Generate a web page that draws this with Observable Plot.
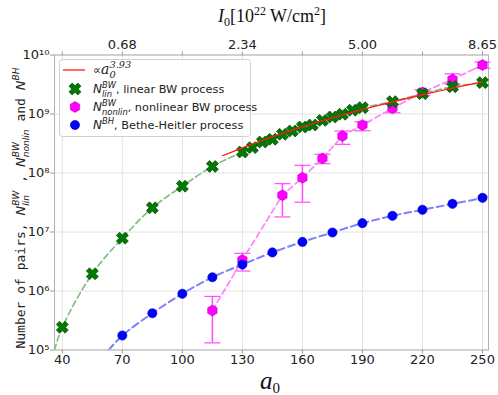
<!DOCTYPE html>
<html><head><meta charset="utf-8">
<script src="https://cdn.jsdelivr.net/npm/d3@7"></script>
<script src="https://cdn.jsdelivr.net/npm/@observablehq/plot@0.6"></script>
<style>body{margin:0;background:#fff;} svg{display:block;}</style>
</head><body>
<script>
// ---- tick data ----
const xTicks = [40, 70, 100, 130, 160, 190, 220, 250];
const topTickA0 = [70, 130, 190, 250];
const topTickLabels = ["0.68", "2.34", "5.00", "8.65"];
const yTicks = [1e5, 1e6, 1e7, 1e8, 1e9, 1e10];

// ---- linear BW (green X) ----
const linA0 = [40, 55, 70, 85, 100, 115, 130, 135, 140, 145, 150, 155, 160, 165, 170, 175, 180, 185, 190, 205, 220, 235, 250];
const linN = [2.43e5, 1.96e6, 7.85e6, 2.57e7, 5.97e7, 1.29e8, 2.27e8, 2.69e8, 3.35e8, 3.73e8, 4.53e8, 5.15e8, 6.02e8, 6.5e8, 7.8e8, 8.9e8, 9.9e8, 1.16e9, 1.28e9, 1.62e9, 2.21e9, 2.9e9, 3.4e9];
// dashed fit curve start (enters at bottom frame)
const linFitStartA0 = [36.1];
const linFitStartN = [1.0e5];

// ---- nonlinear BW (magenta hexagons, error bars) ----
const nonA0 = [115, 130, 150, 160, 170, 180, 190, 205, 220, 235, 250];
const nonN  = [4.67e5, 3.35e6, 4.2e7, 8.3e7, 1.77e8, 4.24e8, 6.5e8, 1.25e9, 2.33e9, 3.87e9, 6.77e9];
const nonLo = [1.32e5, 2.18e6, 1.8e7, 3.2e7, 1.44e8, 3.06e8, 5.2e8, 1.05e9, 2.06e9, 3.2e9, 5.96e9];
const nonHi = [8.1e5, 4.35e6, 6.6e7, 1.35e8, 2.08e8, 5.15e8, 7.4e8, 1.46e9, 2.57e9, 4.8e9, 7.6e9];

// ---- Bethe-Heitler (blue circles) ----
const bhA0 = [70, 85, 100, 115, 130, 145, 160, 175, 190, 205, 220, 235, 250];
const bhN = [1.76e5, 4.2e5, 8.97e5, 1.71e6, 2.81e6, 4.5e6, 6.8e6, 9.8e6, 1.41e7, 1.88e7, 2.38e7, 3.0e7, 3.8e7];
const bhFitStartA0 = [63.2], bhFitStartN = [1.0e5];
const bhFitEndA0 = [253], bhFitEndN = [4.15e7];

// ---- power-law fit (red) ----
const fitA0 = [120, 140, 160, 180, 200, 220, 250];
const fitN = [1.96e8, 3.58e8, 6.05e8, 9.63e8, 1.456e9, 2.12e9, 3.5e9];

// ---- build tables ----
const zip = (xs, ys) => xs.map((a0, i) => ({a0, n: ys[i]}));
const lin = zip(linA0, linN);
const linFit = zip(linFitStartA0, linFitStartN).concat(lin);
const non = nonA0.map((a0, i) => ({a0, n: nonN[i], lo: nonLo[i], hi: nonHi[i]}));
const bh = zip(bhA0, bhN);
const bhFit = zip(bhFitStartA0, bhFitStartN).concat(bh, zip(bhFitEndA0, bhFitEndN));
const fit = zip(fitA0, fitN);
const topLabel = new Map(topTickA0.map((a, i) => [a, topTickLabels[i]]));

// ---- custom symbols ----
const symX = {draw(ctx, size) {
  const r = Math.sqrt(size / Math.PI), w = r * 0.36, c = Math.SQRT1_2;
  const pts = [[w,w],[w,r],[-w,r],[-w,w],[-r,w],[-r,-w],[-w,-w],[-w,-r],[w,-r],[w,-w],[r,-w],[r,w]];
  pts.forEach(([x, y], i) => { const X = (x - y) * c, Y = (x + y) * c; i ? ctx.lineTo(X, Y) : ctx.moveTo(X, Y); });
  ctx.closePath();
}};
const symHex = {draw(ctx, size) {
  const r = Math.sqrt(size / Math.PI);
  for (let i = 0; i < 6; i++) { const a = Math.PI / 2 + i * Math.PI / 3; const x = r * Math.cos(a), y = r * Math.sin(a); i ? ctx.lineTo(x, y) : ctx.moveTo(x, y); }
  ctx.closePath();
}};
const symCap = {draw(ctx, size) { const r = Math.sqrt(size / Math.PI); ctx.moveTo(-r, 0); ctx.lineTo(r, 0); }};

const supDigits = "⁰¹²³⁴⁵⁶⁷⁸⁹";
const supStr = k => String(k).split("").map(c => supDigits[+c]).join("");

const GREEN = "#007a00", GREEN_EDGE = "#004000";
const MAG = "#ff00ff", MAG_EDGE = "#c000c0", MAG_BAR = "#ff4cff";
const BLUE = "#0000ff", BLUE_EDGE = "#0000b0";

const chart = Plot.plot({
  width: 498, height: 395,
  marginTop: 54.5, marginBottom: 45.5, marginLeft: 54, marginRight: 10,
  style: {fontFamily: "DejaVu Sans", fontSize: "13px", color: "#222", background: "white"},
  x: {domain: [36.1, 253]},
  y: {type: "log", domain: [1e5, 1e10]},
  marks: [
    Plot.gridX(xTicks, {stroke: "#e2e2e2", strokeOpacity: 1}),
    Plot.gridY(yTicks, {stroke: "#e2e2e2", strokeOpacity: 1}),
    Plot.axisX({ticks: xTicks, tickFormat: d => String(d), tickSize: 4, tickPadding: 1, stroke: "#999", fill: "#222", fontSize: 13, label: null}),
    Plot.axisX({anchor: "top", ticks: xTicks, tickFormat: d => topLabel.get(d) ?? "", tickSize: 4, tickPadding: 2, stroke: "#999", fill: "#222", fontSize: 13, label: null}),
    Plot.axisY({ticks: yTicks, tickFormat: d => "10" + supStr(Math.round(Math.log10(d))), tickSize: 4, tickPadding: 1, stroke: "#999", fill: "#222", fontSize: 13, label: null}),
    Plot.frame({stroke: "#b0b0b0"}),
    Plot.line(bhFit, {x: "a0", y: "n", stroke: "#7f7fff", strokeWidth: 2, strokeDasharray: "7,4", curve: "catmull-rom", clip: true}),
    Plot.line(linFit, {x: "a0", y: "n", stroke: "#80c080", strokeWidth: 1.7, strokeDasharray: "6,3.5", curve: "catmull-rom", clip: true}),
    Plot.ruleX(non, {x: "a0", y1: "lo", y2: "hi", stroke: MAG_BAR, strokeWidth: 1.5}),
    Plot.dot(non, {x: "a0", y: "lo", symbol: symCap, r: 8, fill: "none", stroke: MAG_BAR, strokeWidth: 1.2}),
    Plot.dot(non, {x: "a0", y: "hi", symbol: symCap, r: 8, fill: "none", stroke: MAG_BAR, strokeWidth: 1.2}),
    Plot.line(non, {x: "a0", y: "n", stroke: "#ff80ff", strokeWidth: 1.7, strokeDasharray: "6,3.5"}),
    Plot.dot(non, {x: "a0", y: "n", symbol: symHex, r: 5.4, fill: MAG, stroke: MAG_EDGE, strokeWidth: 0.6}),
    Plot.dot(lin, {x: "a0", y: "n", symbol: symX, r: 6.2, fill: GREEN, stroke: GREEN_EDGE, strokeWidth: 0.7}),
    Plot.dot(bh, {x: "a0", y: "n", symbol: "circle", r: 4.6, fill: BLUE, stroke: BLUE_EDGE, strokeWidth: 0.6}),
    Plot.line(fit, {x: "a0", y: "n", stroke: "#ff1a1a", strokeWidth: 1.3, curve: "catmull-rom"})
  ]
});
document.body.append(chart);

const svg = d3.select(chart);

// math helper: base with stacked sup/sub; returns offsets for next tspan
function math(text, base, sup, sub, fs, family, supShift = 0.45, subShift = 0.32) {
  const small = fs * 0.7;
  text.append("tspan").attr("font-style", "italic").attr("font-family", family).attr("font-size", fs).text(base);
  let supW = 0, subW = 0, cur = 0;
  if (sup) {
    const t = text.append("tspan").attr("font-style", "italic").attr("font-family", family).attr("font-size", small).attr("dy", -fs * supShift).text(sup);
    supW = t.node().getComputedTextLength(); cur = -fs * supShift;
  }
  if (sub) {
    const t = text.append("tspan").attr("font-style", "italic").attr("font-family", family).attr("font-size", small)
      .attr("dx", sup ? -supW : 0).attr("dy", fs * subShift - cur).text(sub);
    subW = t.node().getComputedTextLength(); cur = fs * subShift;
  }
  return {dy: -cur, dx: sub ? Math.max(0, supW - subW) : 0};
}
function plain(text, str, off, fs, family, style) {
  const t = text.append("tspan").attr("font-family", family).attr("font-size", fs).attr("xml:space", "preserve").text(str);
  if (style) t.attr("font-style", style);
  if (off) t.attr("dy", off.dy).attr("dx", off.dx);
  return t;
}

// y label
{
  const t = svg.append("text").attr("transform", "translate(25,208) rotate(-90)").attr("text-anchor", "middle").attr("fill", "#222").style("white-space", "pre");
  plain(t, "Number of pairs, ", null, 13, "DejaVu Sans Mono");
  let o = math(t, "N", "BW", "lin", 13, "DejaVu Sans");
  plain(t, " , ", o, 13, "DejaVu Sans Mono");
  o = math(t, "N", "BW", "nonlin", 13, "DejaVu Sans");
  plain(t, " and ", o, 13, "DejaVu Sans Mono");
  math(t, "N", "BH", null, 13, "DejaVu Sans");
}

// x label
{
  const t = svg.append("text").attr("x", 270).attr("y", 389).attr("text-anchor", "middle").attr("fill", "#111");
  t.append("tspan").attr("font-family", "Liberation Serif").attr("font-style", "italic").attr("font-size", 25).text("a");
  t.append("tspan").attr("font-family", "Liberation Serif").attr("font-size", 15).attr("dy", 4).text("0");
}

// top label
{
  const t = svg.append("text").attr("x", 272).attr("y", 22).attr("text-anchor", "middle").attr("fill", "#111").attr("font-family", "Liberation Serif").attr("font-size", 18).style("white-space", "pre");
  t.append("tspan").attr("font-style", "italic").text("I");
  t.append("tspan").attr("font-size", 12).attr("dy", 4).text("0");
  t.append("tspan").attr("dy", -4).text("[10");
  t.append("tspan").attr("font-size", 12).attr("dy", -7).text("22");
  t.append("tspan").attr("dy", 7).text(" W/cm");
  t.append("tspan").attr("font-size", 12).attr("dy", -7).text("2");
  t.append("tspan").attr("dy", 7).text("]");
}

// legend
{
  const g = svg.append("g").attr("text-anchor", "start");
  g.append("rect").attr("x", 59.5).attr("y", 59.5).attr("width", 191).attr("height", 77).attr("rx", 3)
    .attr("fill", "white").attr("fill-opacity", 0.85).attr("stroke", "#d0d0d0");
  const rows = [70, 89, 107, 125];
  g.append("line").attr("x1", 63).attr("x2", 85).attr("y1", rows[0]).attr("y2", rows[0]).attr("stroke", "#ff1a1a").attr("stroke-width", 1.3);
  const sym = (type, r) => d3.symbol(type, Math.PI * r * r)();
  g.append("path").attr("d", sym(symX, 6.2)).attr("transform", `translate(75,${rows[1]})`).attr("fill", GREEN).attr("stroke", GREEN_EDGE).attr("stroke-width", 0.7);
  g.append("path").attr("d", sym(symHex, 5.4)).attr("transform", `translate(75,${rows[2]})`).attr("fill", MAG).attr("stroke", MAG_EDGE).attr("stroke-width", 0.6);
  g.append("path").attr("d", sym(d3.symbolCircle, 4.6)).attr("transform", `translate(75,${rows[3]})`).attr("fill", BLUE).attr("stroke", BLUE_EDGE).attr("stroke-width", 0.6);
  const fs = 11.3, fam = "DejaVu Sans";
  const tx = 93;
  const mk = (y) => g.append("text").attr("x", tx).attr("y", y).attr("text-anchor", "start").attr("fill", "#222").style("white-space", "pre");
  {
    const t = mk(rows[0] + 4);
    plain(t, "∝", null, fs, fam);
    math(t, "a", "3.93", "0", 14, "DejaVu Serif", 0.4, 0.25);
  }
  {
    const t = mk(rows[1] + 4);
    const o = math(t, "N", "BW", "lin", 12, fam);
    plain(t, ", linear BW process", o, fs, fam);
  }
  {
    const t = mk(rows[2] + 4);
    const o = math(t, "N", "BW", "nonlin", 12, fam);
    plain(t, ", nonlinear BW process", o, fs, fam);
  }
  {
    const t = mk(rows[3] + 4);
    const o = math(t, "N", "BH", null, 12, fam);
    plain(t, ", Bethe-Heitler process", o, fs, fam);
  }
}
</script>
</body></html>
